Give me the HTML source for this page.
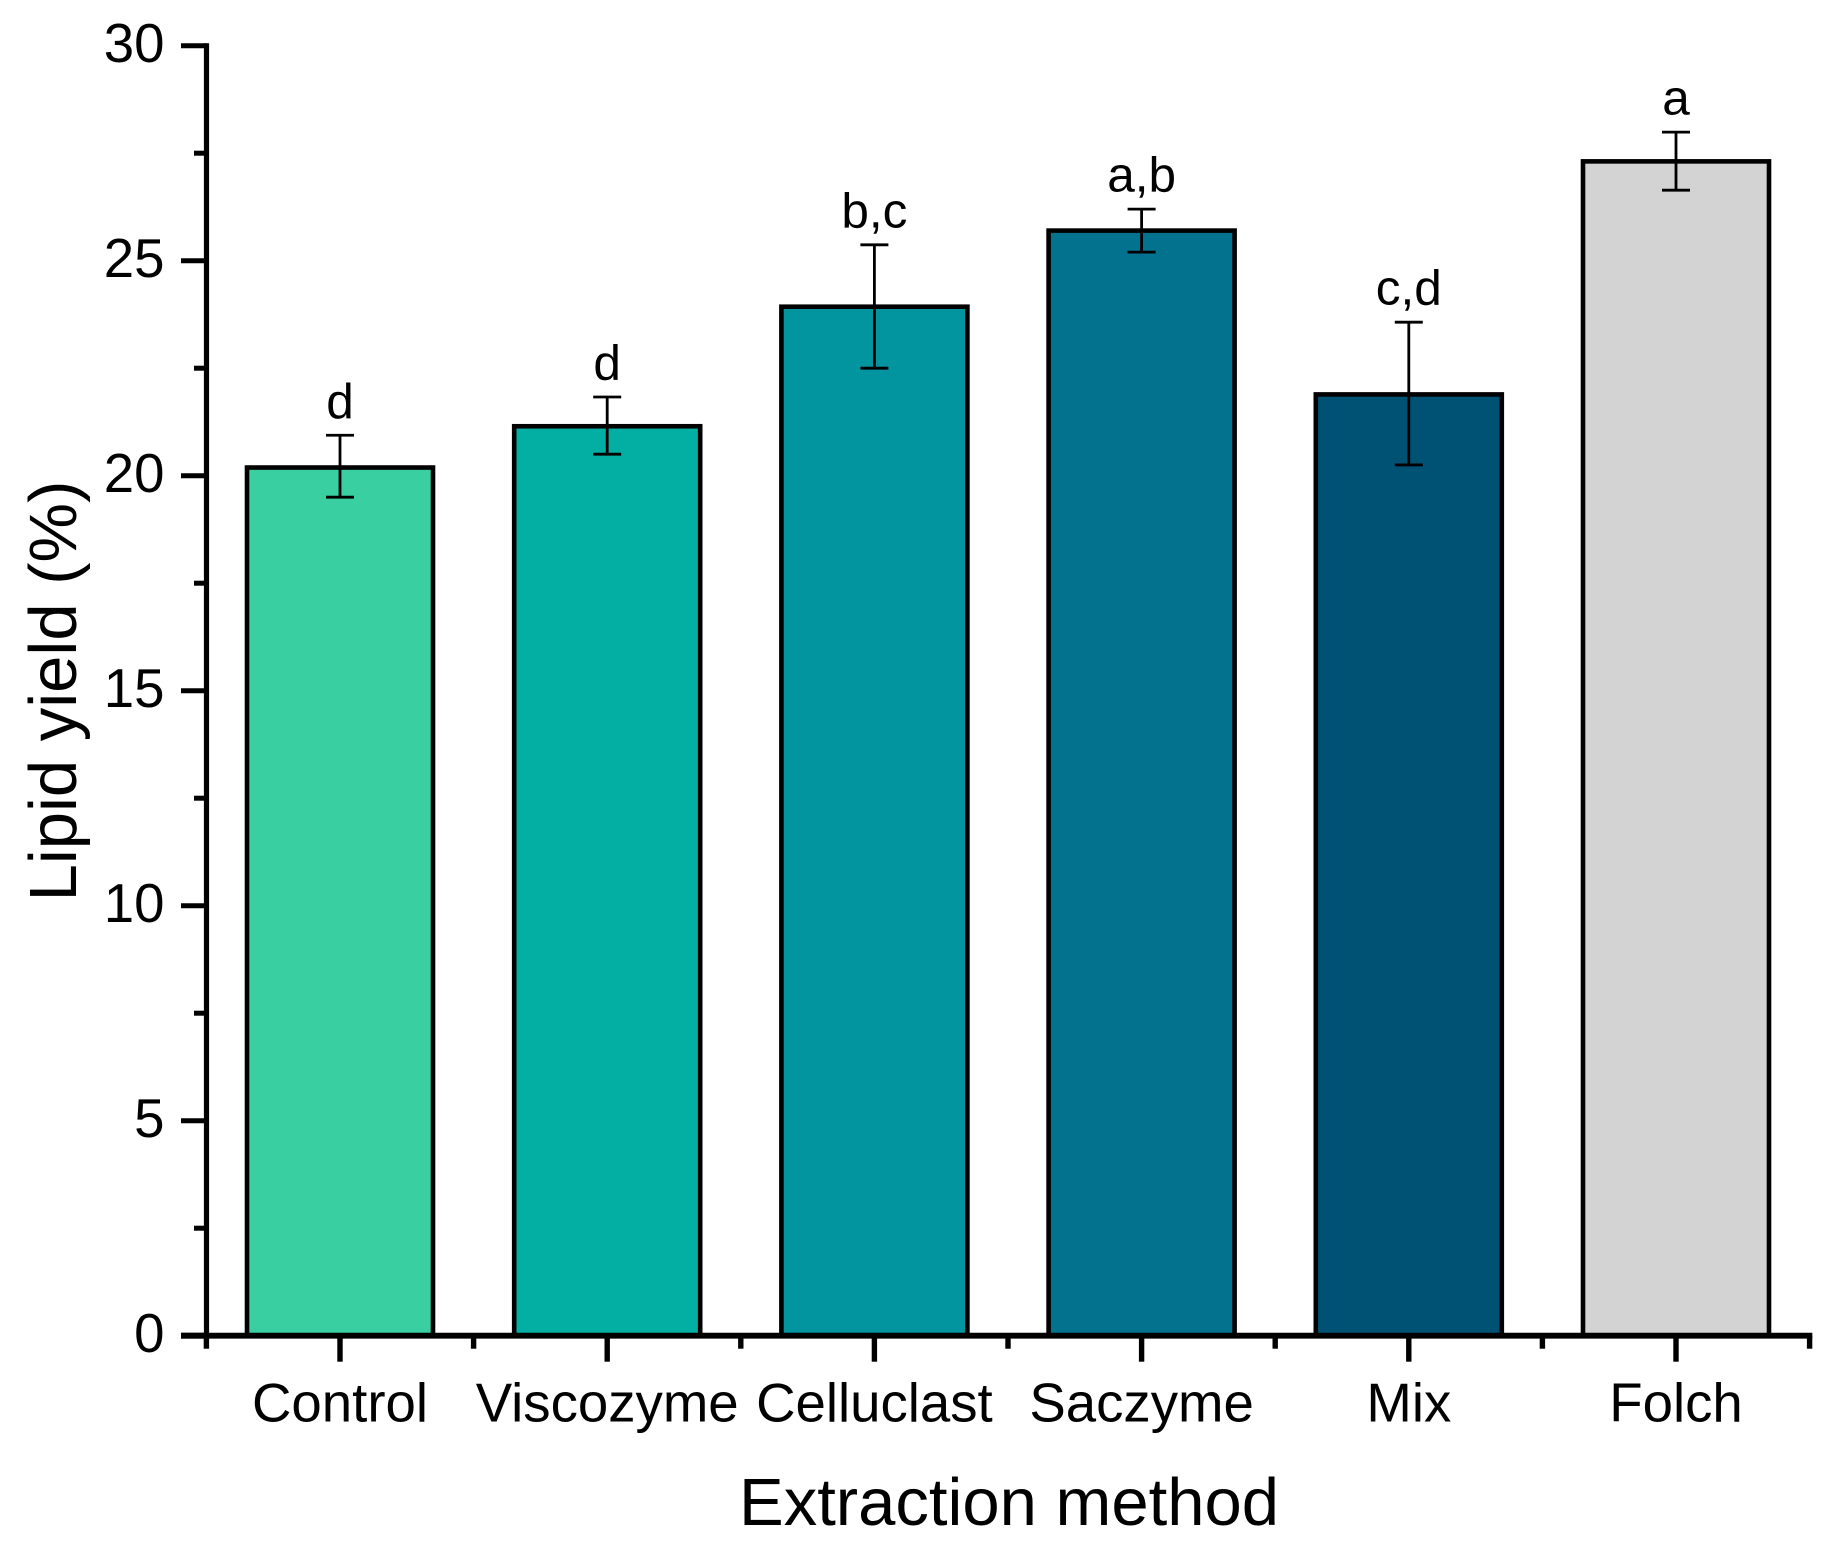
<!DOCTYPE html>
<html>
<head>
<meta charset="utf-8">
<title>Lipid yield by extraction method</title>
<style>
html,body{margin:0;padding:0;background:#fff;}
svg{display:block;}
text{font-family:"Liberation Sans",sans-serif;fill:#000;}
</style>
</head>
<body>
<svg id="chart" xmlns="http://www.w3.org/2000/svg" width="1833" height="1552" viewBox="0 0 1833 1552">
<rect x="0" y="0" width="1833" height="1552" fill="#fff"/>
<g id="bars"></g>
<g id="errors"></g>
<g id="letters"></g>
<g id="axes"></g>
<text x="1009" y="1525" font-size="67" text-anchor="middle">Extraction method</text>
<text transform="translate(76,691) rotate(-90)" font-size="67" text-anchor="middle">Lipid yield (%)</text>
</svg>
<script>
const categories = ['Control', 'Viscozyme', 'Celluclast', 'Saczyme', 'Mix', 'Folch'];
const yieldValues = [20.19, 21.15, 23.93, 25.70, 21.89, 27.31];
const errorUpper = [20.94, 21.83, 25.37, 26.20, 23.57, 27.99];
const errorLower = [19.50, 20.50, 22.50, 25.20, 20.25, 26.64];
const letterLabels = ['d', 'd', 'b,c', 'a,b', 'c,d', 'a'];
const barColors = ['#39CFA0', '#03AFA3', '#02959F', '#02728F', '#005275', '#D3D3D3'];
const yMajorTicks = [0, 5, 10, 15, 20, 25, 30];
const yMinorTicks = [2.5, 7.5, 12.5, 17.5, 22.5, 27.5];

const NS = 'http://www.w3.org/2000/svg';
const yScale = v => 1335.7 - 43 * v;
const xScale = i => 340 + 267.2 * i;
const BAR_W = 186;

function make(tag, parent, attrs, text) {
  const el = document.createElementNS(NS, tag);
  for (const k in attrs) el.setAttribute(k, attrs[k]);
  if (text !== undefined) el.textContent = text;
  parent.appendChild(el);
  return el;
}

const barsG = document.getElementById('bars');
const errG = document.getElementById('errors');
const letG = document.getElementById('letters');
const axG = document.getElementById('axes');

categories.forEach((c, i) => {
  const cx = xScale(i);
  const key = c.toLowerCase();

  const bar = make('rect', barsG, {
    x: cx - BAR_W / 2, y: yScale(yieldValues[i]),
    width: BAR_W, height: yScale(0) - yScale(yieldValues[i]),
    fill: barColors[i], stroke: '#000', 'stroke-width': 4.6
  });
  
  

  const g = make('g', errG, {stroke: '#000', fill: 'none'});
  
  
  make('line', g, {x1: cx, x2: cx, y1: yScale(errorUpper[i]), y2: yScale(errorLower[i]), 'stroke-width': 2.8});
  make('line', g, {x1: cx - 14, x2: cx + 14, y1: yScale(errorUpper[i]), y2: yScale(errorUpper[i]), 'stroke-width': 2.8});
  make('line', g, {x1: cx - 14, x2: cx + 14, y1: yScale(errorLower[i]), y2: yScale(errorLower[i]), 'stroke-width': 2.8});

  const lt = make('text', letG, {x: cx, y: yScale(errorUpper[i]) - 17.5, 'font-size': 49.5, 'text-anchor': 'middle'}, letterLabels[i]);
  
  

  const tick = make('line', axG, {x1: cx, x2: cx, y1: 1335.7, y2: 1361.7, stroke: '#000', 'stroke-width': 5.4});
  
  

  const lab = make('text', axG, {x: cx, y: 1421.5, 'font-size': 54.6, 'text-anchor': 'middle'}, c);
  
  
});

/* x minor ticks sit halfway between categories, including both axis ends */
for (let i = -0.5; i <= categories.length - 0.5; i += 1) {
  const mt = make('line', axG, {x1: xScale(i), x2: xScale(i), y1: 1335.7, y2: 1348.7, stroke: '#000', 'stroke-width': 5.4});
  
  
}

yMajorTicks.forEach(v => {
  const t = make('line', axG, {x1: 181, x2: 206.5, y1: yScale(v), y2: yScale(v), stroke: '#000', 'stroke-width': v === 0 ? 5.8 : 5});
  
  
  const l = make('text', axG, {x: 164.5, y: yScale(v) + 16.5, 'font-size': 54.6, 'text-anchor': 'end'}, String(v));
  
  
});

yMinorTicks.forEach(v => {
  const t = make('line', axG, {x1: 194, x2: 206.5, y1: yScale(v), y2: yScale(v), stroke: '#000', 'stroke-width': 5});
  
  
});

const yAxis = make('line', axG, {x1: 206.5, x2: 206.5, y1: yScale(30) - 2.5, y2: 1338.6, stroke: '#000', 'stroke-width': 5.2});



const xAxis = make('line', axG, {x1: 181, x2: xScale(categories.length - 0.5) + 2.7, y1: 1335.7, y2: 1335.7, stroke: '#000', 'stroke-width': 5.8});


</script>
</body>
</html>
